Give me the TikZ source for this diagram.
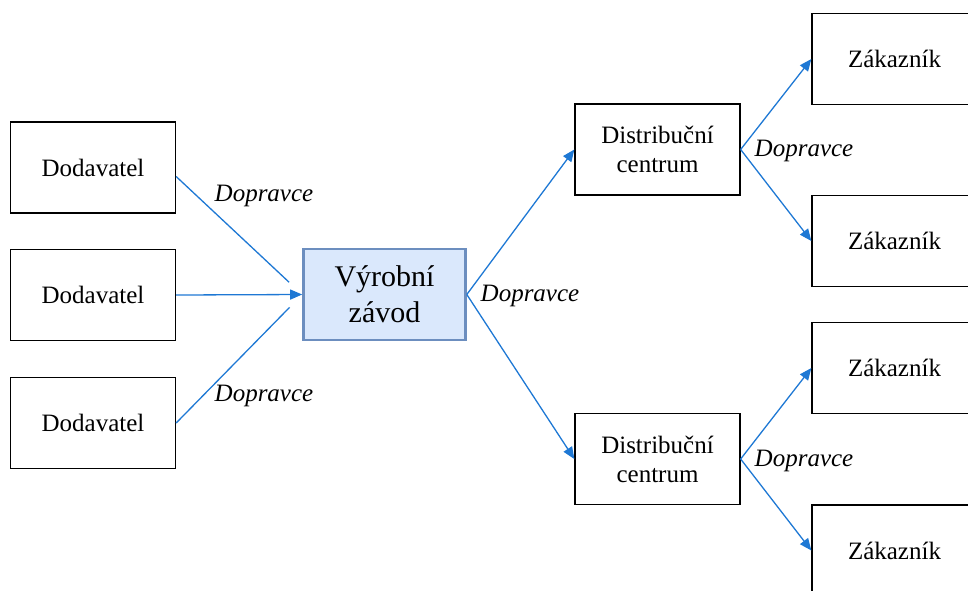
\documentclass[tikz,border=0pt]{standalone}
\usepackage{fontspec}
\setmainfont{Liberation Serif}
\usetikzlibrary{arrows.meta}
\definecolor{flow}{RGB}{30,120,212}
\definecolor{plantfill}{HTML}{DAE8FC}
\definecolor{plantline}{HTML}{6C8EBF}
\begin{document}
\begin{tikzpicture}[x=1pt,y=-1pt,
  box/.style={draw=black, line width=1.3pt, minimum width=165pt, minimum height=91pt,
    inner sep=0pt, align=center, font=\fontsize{25}{29}\selectfont},
  plant/.style={box, draw=plantline, fill=plantfill, line width=2.6pt,
    minimum width=162pt, font=\fontsize{30}{36}\selectfont},
  carrier/.style={font=\fontsize{25}{29}\selectfont\itshape, inner sep=0pt},
  flowline/.style={draw=flow, line width=1.3pt},
  flowarrow/.style={flowline, -{Triangle[length=12pt,width=10pt]}}
]
\useasboundingbox (0,0) rectangle (968,590);
\clip (0,0) rectangle (968,590);

% suppliers
\node[box] (d1) at (93,167.5) {Dodavatel};
\node[box] (d2) at (93,295) {Dodavatel};
\node[box] (d3) at (93,423) {Dodavatel};

% plant
\node[plant] (v) at (384.5,294.5) {Výrobní\\závod};

% distribution centres
\node[box] (c1) at (657.5,149.5) {Distribuční\\centrum};
\node[box] (c2) at (657.5,459) {Distribuční\\centrum};

% customers
\node[box] (z1) at (894.5,59) {Zákazník};
\node[box] (z2) at (894.5,241) {Zákazník};
\node[box] (z3) at (894.5,368) {Zákazník};
\node[box] (z4) at (894.5,550.5) {Zákazník};

% carrier labels
\node[carrier] (l1) at (264,196) {Dopravce};
\node[carrier] (l2) at (264,396) {Dopravce};
\node[carrier] (l3) at (530,296) {Dopravce};
\node[carrier] (l4) at (804,151) {Dopravce};
\node[carrier] (l5) at (804,461) {Dopravce};

% inbound flows
\draw[flowline, shorten >=18pt] ([yshift=-9pt]d1.east) -- (v.west);
\draw[flowarrow] (d2.east) -- (v.west);
\draw[flowline, shorten >=18pt] (d3.east) -- (v.west);

% outbound flows
\draw[flowarrow] (v.east) -- (c1.west);
\draw[flowarrow] (v.east) -- (c2.west);
\draw[flowarrow] (c1.east) -- (z1.west);
\draw[flowarrow] (c1.east) -- (z2.west);
\draw[flowarrow] (c2.east) -- (z3.west);
\draw[flowarrow] (c2.east) -- (z4.west);
\end{tikzpicture}
\end{document}
